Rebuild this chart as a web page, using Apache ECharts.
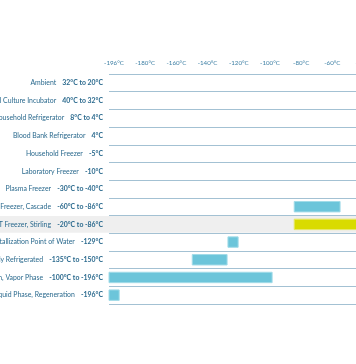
<!DOCTYPE html>
<html><head><meta charset="utf-8">
<script src="https://cdn.jsdelivr.net/npm/echarts@6/dist/echarts.min.js"></script>
<style>html,body{margin:0;padding:0;background:#fff}#c{width:356px;height:364px}</style>
</head><body><div id="c"></div>
<script>
const names = ['Ambient','Cell Culture Incubator','Household Refrigerator','Blood Bank Refrigerator','Household Freezer','Laboratory Freezer','Plasma Freezer','ULT Freezer, Cascade','ULT Freezer, Stirling','Crystallization Point of Water','Cryogenic, Electrically Refrigerated','Liquid Nitrogen, Vapor Phase','LN2 Liquid Phase, Regeneration'];
const temps = ['32°C to 20°C','40°C to 32°C','8°C to 4°C','4°C','-5°C','-10°C','-30°C to -40°C','-60°C to -86°C','-20°C to -86°C','-129°C','-135°C to -150°C','-100°C to -196°C','-196°C'];
const lowValues  = [20, 32, 4, 4, -5, -10, -40, -87, -87, -126, -147, -196, -196];
const highValues = [32, 40, 8, 10, 1, -4, -30, -60, -20, -120, -126.5, -100, -190];
const tickLabels = ['-196°C','-180°C','-160°C','-140°C','-120°C','-100°C','-80°C','-60°C','-40°C','-20°C','0°C','20°C','40°C'];
const highlightRow = 8;
const yellowRow = 8;

const chart = echarts.init(document.getElementById('c'), null, {renderer: 'canvas'});
const lineColor = '#a3c1d3';
const font = 'Lato';

const barData = names.map((n, i) => [i, lowValues[i], highValues[i]]);

chart.setOption({
  animation: false,
  backgroundColor: '#ffffff',
  grid: [
    {left: 109, top: 74, width: 401, height: 230, containLabel: false, outerBoundsMode: 'none'},
    {left: 114, top: 74, width: 374.4, height: 230, containLabel: false, outerBoundsMode: 'none'}
  ],
  xAxis: [
    {gridIndex: 0, type: 'value', min: -196, max: 40, show: false},
    {gridIndex: 1, type: 'value', min: 0, max: 12, interval: 1, position: 'top',
     axisLine: {show: false}, axisTick: {show: false}, splitLine: {show: false},
     axisLabel: {margin: 8, fontSize: 6.2, fontFamily: font, color: '#3d7fa4',
       formatter: v => tickLabels[Math.round(v)] || ''}}
  ],
  yAxis: [
    {gridIndex: 0, type: 'category', data: names, inverse: true,
     axisLine: {show: false}, axisTick: {show: false},
     splitLine: {show: true, lineStyle: {color: lineColor, width: 1}},
     axisLabel: {margin: 6, fontFamily: font, color: '#2b6a8e',
       formatter: (v, i) => '{n|' + names[i] + '}  {b|' + temps[i] + '}',
       rich: {n: {fontSize: 6.9, fontFamily: font, color: '#2b6a8e'},
              b: {fontSize: 6.9, fontFamily: font, fontWeight: 'bold', color: '#2b6a8e'}}}},
    {gridIndex: 0, type: 'category', data: names, inverse: true, offset: 6,
     axisLine: {show: false}, axisLabel: {show: false}, splitLine: {show: false},
     axisTick: {show: true, length: 120, lineStyle: {color: lineColor, width: 1}}},
    {gridIndex: 1, type: 'value', show: false}
  ],
  series: [
    {type: 'custom', xAxisIndex: 0, yAxisIndex: 0, z: -1, silent: true,
     data: [[highlightRow]], encode: {y: 0},
     renderItem: (params, api) => {
       const c = api.coord([-196, api.value(0)]);
       const h = api.size([0, 1])[1];
       return {type: 'rect', shape: {x: 0, y: c[1] - h / 2 + 0.5, width: api.getWidth(), height: h - 1},
               style: {fill: '#efefef'}};
     }},
    {type: 'custom', xAxisIndex: 0, yAxisIndex: 0, z: 3,
     data: barData, encode: {x: [1, 2], y: 0},
     renderItem: (params, api) => {
       const row = api.value(0);
       const p0 = api.coord([api.value(1), row]);
       const p1 = api.coord([api.value(2), row]);
       const h = api.size([0, 1])[1] * 0.59;
       const yellow = row === yellowRow;
       return {type: 'rect', shape: {x: p0[0], y: p0[1] - h / 2, width: p1[0] - p0[0], height: h},
               style: {fill: yellow ? '#d9db00' : '#6cc5da', stroke: yellow ? '#e6e76a' : '#a2dbe8', lineWidth: 1}};
     }}
  ]
});
</script></body></html>
